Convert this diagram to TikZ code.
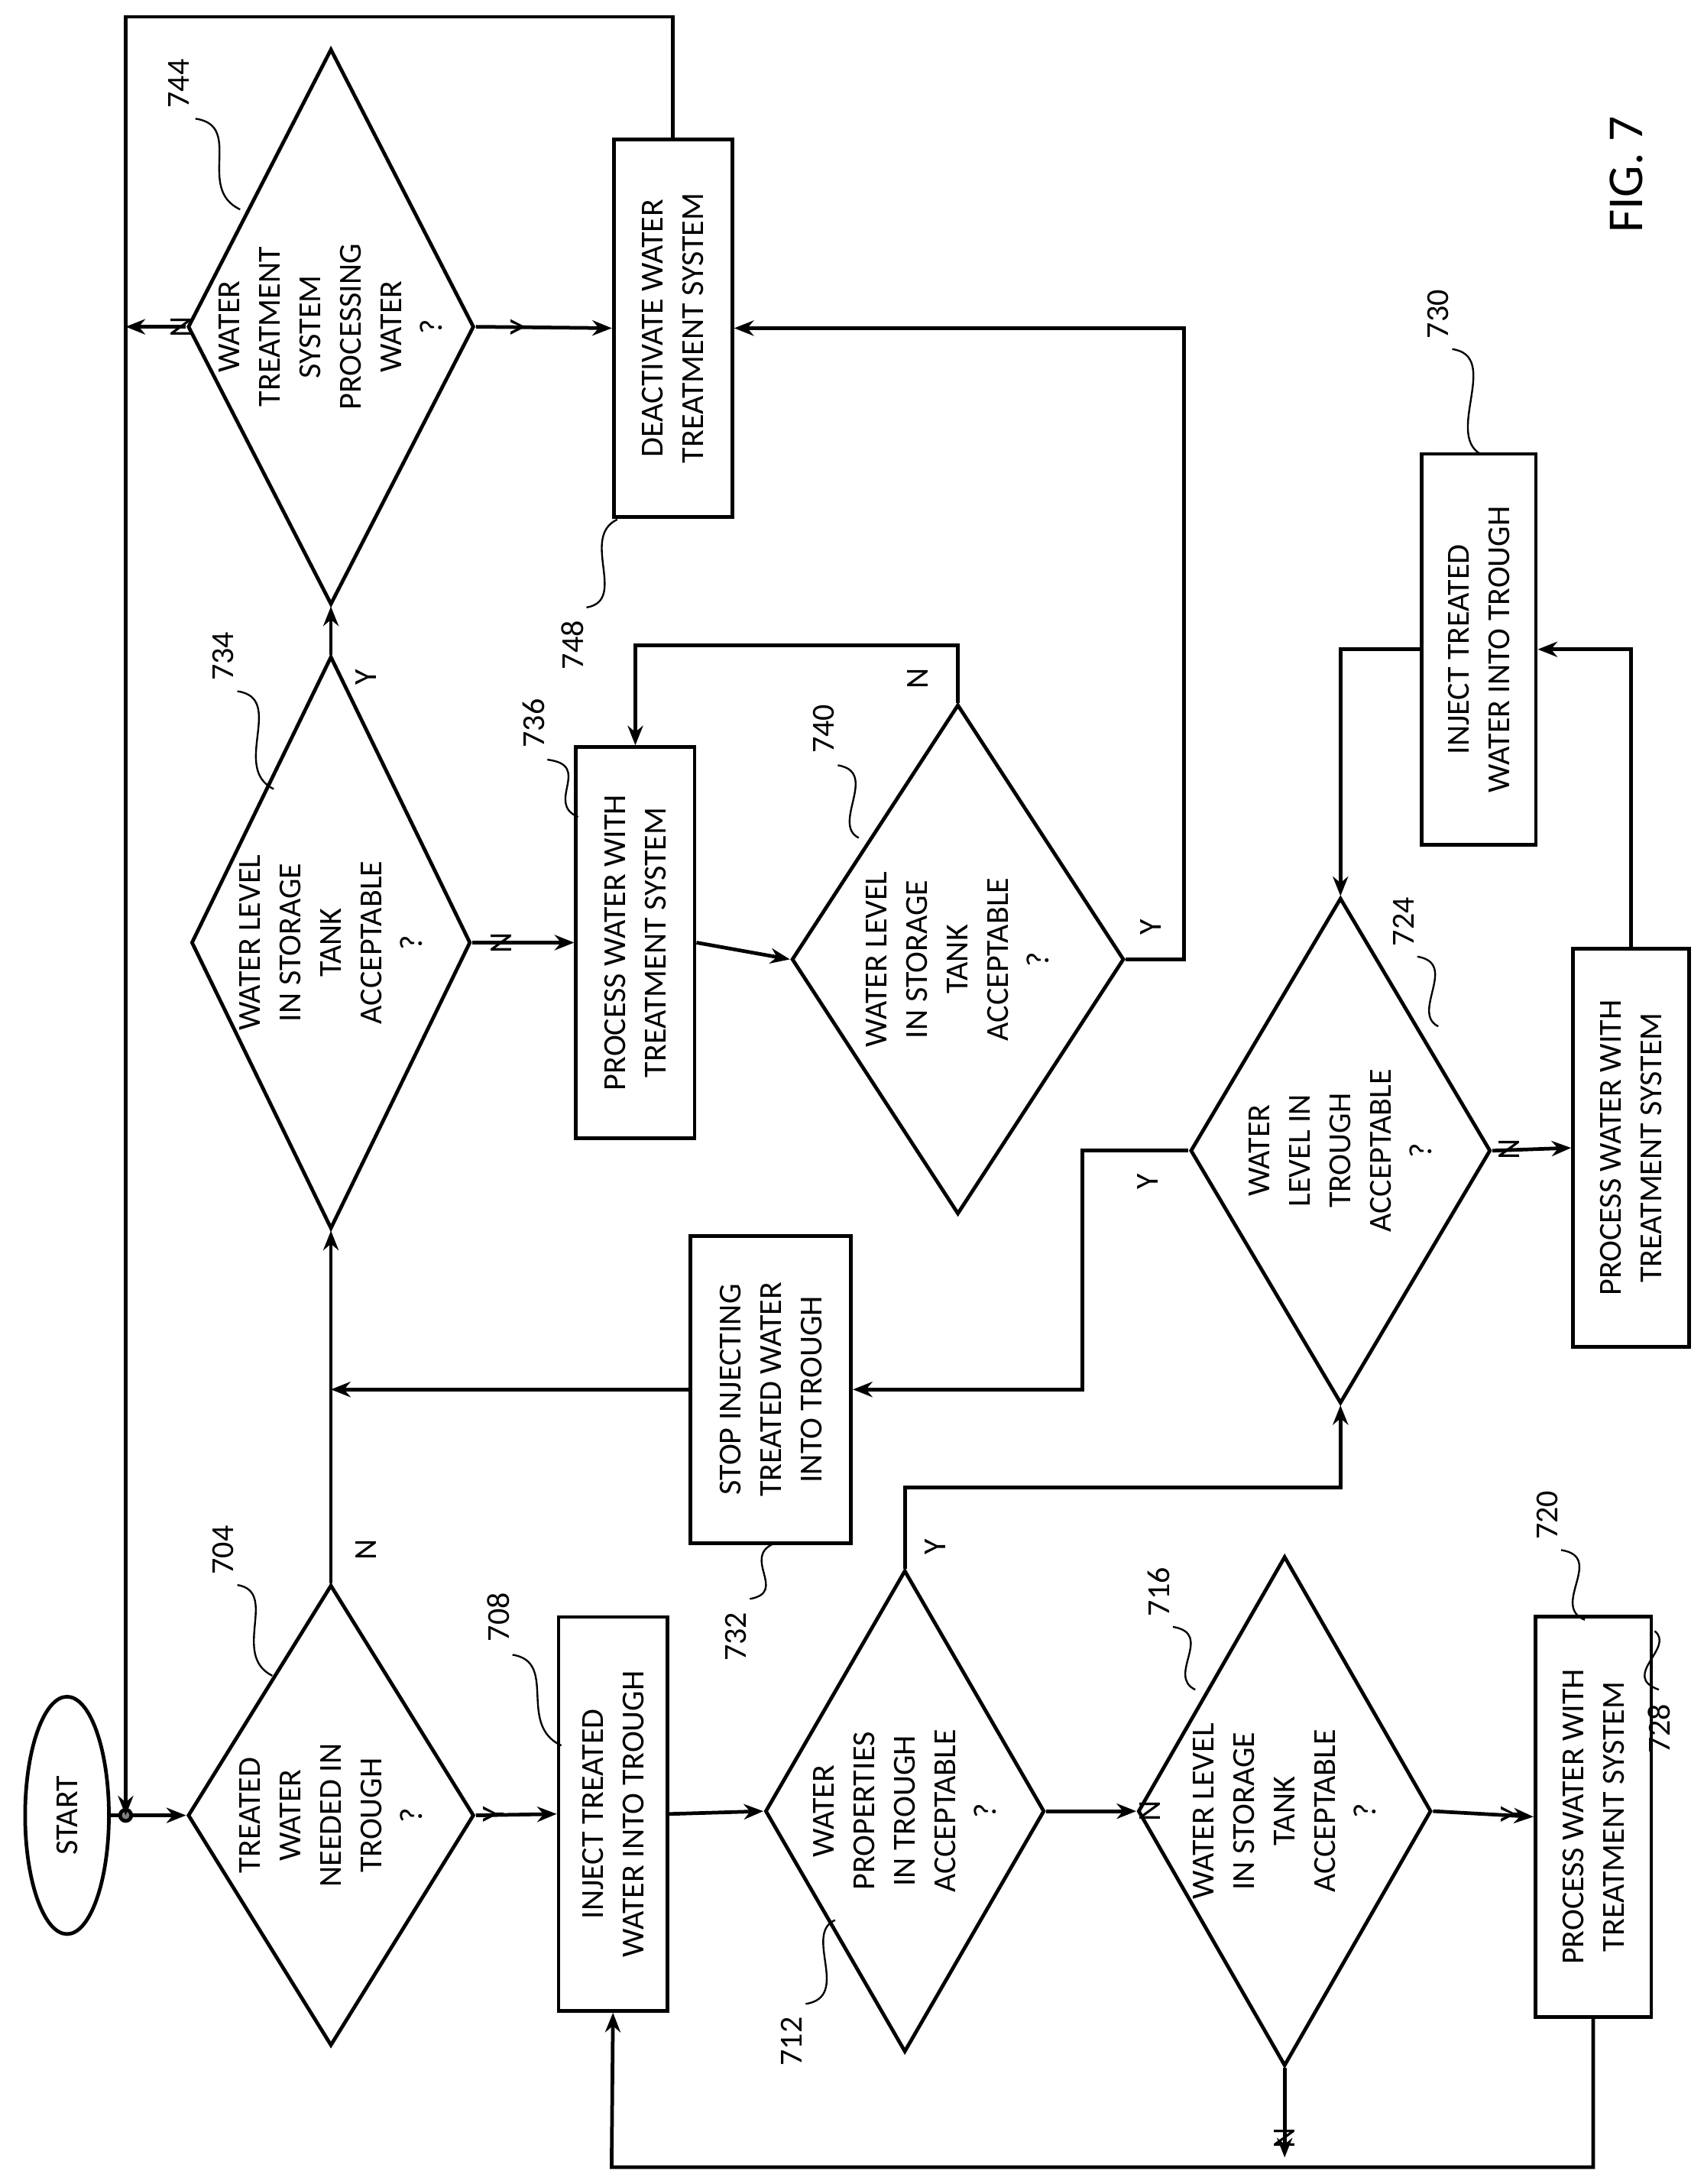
\documentclass[tikz,border=0pt]{standalone}
\usepackage{fontspec}
\setmainfont{Carlito}
\usetikzlibrary{shapes.geometric,arrows.meta}
\begin{document}
\begin{tikzpicture}[x=1pt,y=1pt,line width=2.6pt,
 arr/.style={-{Stealth[length=14pt,width=11pt]}},
 dia/.style={draw,diamond,inner sep=0pt},
 box/.style={draw,rectangle,inner sep=0pt},
 txt/.style={rotate=90,align=center,font=\fontsize{23}{29}\selectfont},
 lab/.style={font=\fontsize{23}{28}\selectfont,rotate=90},
 sq/.style={line width=1.3pt}]
\useasboundingbox (0,0) rectangle (1220,-1564);
\fill[white] (0,0) rectangle (1220,-1564);
% nodes
\node[draw,ellipse,minimum width=60pt,minimum height=170pt,inner sep=0] (start) at (48,-1300) {};
\node[txt] at (start) {START};
\coordinate (dot) at (90,-1300);
\node[dia,minimum width=205pt,minimum height=330pt] (d704) at (237,-1300) {};
\node[txt] at (d704) {TREATED\\WATER\\NEEDED IN\\TROUGH\\?};
\node[box,minimum width=78pt,minimum height=282pt] (b708) at (439,-1299) {};
\node[txt] at (b708) {INJECT TREATED\\WATER INTO TROUGH};
\node[dia,minimum width=200pt,minimum height=345pt] (d712) at (648,-1297) {};
\node[txt] at (d712) {WATER\\PROPERTIES\\IN TROUGH\\ACCEPTABLE\\?};
\node[dia,minimum width=210pt,minimum height=365pt] (d716) at (920,-1297) {};
\node[txt] at (d716) {WATER LEVEL\\IN STORAGE\\TANK\\ACCEPTABLE\\?};
\node[box,minimum width=83pt,minimum height=287pt] (b720) at (1141,-1301) {};
\node[txt] at (b720) {PROCESS WATER WITH\\TREATMENT SYSTEM};
\node[dia,minimum width=215pt,minimum height=362pt] (d724) at (960,-824) {};
\node[txt] at (d724) {WATER\\LEVEL IN\\TROUGH\\ACCEPTABLE\\?};
\node[box,minimum width=83pt,minimum height=285pt] (b728) at (1168,-822) {};
\node[txt] at (b728) {PROCESS WATER WITH\\TREATMENT SYSTEM};
\node[box,minimum width=82pt,minimum height=280pt] (b730) at (1059,-465) {};
\node[txt] at (b730) {INJECT TREATED\\WATER INTO TROUGH};
\node[box,minimum width=115pt,minimum height=220pt] (b732) at (552,-995) {};
\node[txt] at (b732) {STOP INJECTING\\TREATED WATER\\INTO TROUGH};
\node[dia,minimum width=200pt,minimum height=410pt] (d734) at (237,-675) {};
\node[txt] at (d734) {WATER LEVEL\\IN STORAGE\\TANK\\ACCEPTABLE\\?};
\node[box,minimum width=85pt,minimum height=280pt] (b736) at (455,-675) {};
\node[txt] at (b736) {PROCESS WATER WITH\\TREATMENT SYSTEM};
\node[dia,minimum width=238pt,minimum height=365pt] (d740) at (686,-687) {};
\node[txt] at (d740) {WATER LEVEL\\IN STORAGE\\TANK\\ACCEPTABLE\\?};
\node[dia,minimum width=205pt,minimum height=398pt] (d744) at (237,-234) {};
\node[txt] at (d744) {WATER\\TREATMENT\\SYSTEM\\PROCESSING\\WATER\\?};
\node[box,minimum width=85pt,minimum height=270pt] (b748) at (482,-235) {};
\node[txt] at (b748) {DEACTIVATE WATER\\TREATMENT SYSTEM};
% connectors
\draw[arr] (start.east) -- (d704.west);
\fill[gray] (dot) circle (4pt);
\draw (dot) circle (4pt);
\draw[arr] (b748.north) |- (90,-12) -- (dot);
\draw[arr] (d744.west) -- (90,-234) node[lab,pos=0.5,below=6pt] {N};
\draw[arr] (d704.east) -- (b708.west) node[lab,midway,above=4pt] {Y};
\draw[arr] (b708.east) -- (d712.west);
\draw[arr] (d712.east) -- (d716.west) node[lab,midway,below=30pt] {N};
\draw[arr] (d716.east) -- (b720.west) node[lab,midway,below=8pt] {Y};
\draw[arr] (d716.south) -- (920,-1545) node[lab,pos=0.5,left=6pt] {N};
\draw[arr] (b720.south) |- (438,-1552) -- (b708.south);
\draw[arr] (d712.north) -- (648,-1065) -| (d724.south);
\node[lab] at (670,-1108) {Y};
\draw[arr] (d724.east) -- (b728.west) node[lab,midway,above=4pt] {N};
\draw[arr] (b728.north) |- (b730.east);
\draw[arr] (b730.west) -| (d724.north);
\draw[arr] (d724.west) -- (775,-824) |- (b732.east);
\node[lab] at (822,-846) {Y};
\draw[arr] (b732.west) -- (237,-995);
\draw[arr] (d704.north) -- (d734.south);
\node[lab] at (262,-1110) {N};
\draw[arr] (d734.east) -- (b736.west) node[lab,midway,above=4pt] {N};
\draw[arr] (b736.east) -- (d740.west);
\draw[arr] (d740.north) |- (455,-462) -- (b736.north);
\node[lab] at (657,-486) {N};
\draw[arr] (d740.east) -- (848,-687) |- (b748.east);
\node[lab] at (824,-664) {Y};
\draw[arr] (d734.north) -- (d744.south);
\node[lab] at (262,-485) {Y};
\draw[arr] (d744.east) -- (b748.west) node[lab,midway,above=4pt] {Y};
% reference labels
\node[lab] (r744) at (128,-60) {744};
\draw[sq] (140,-85) .. controls (175,-90) and (140,-135) .. (172,-150);
\node[lab] (r704) at (160,-1110) {704};
\draw[sq] (170,-1135) .. controls (200,-1140) and (165,-1185) .. (195,-1200);
\node[lab] (r708) at (357,-1158) {708};
\draw[sq] (367,-1185) .. controls (400,-1190) and (370,-1235) .. (402,-1250);
\node[lab] (r712) at (567,-1462) {712};
\draw[sq] (577,-1435) .. controls (610,-1430) and (575,-1385) .. (598,-1375);
\node[lab] (r716) at (830,-1140) {716};
\draw[sq] (840,-1165) .. controls (870,-1170) and (835,-1200) .. (856,-1210);
\node[lab] (r720) at (1108,-1085) {720};
\draw[sq] (1118,-1110) .. controls (1150,-1115) and (1110,-1150) .. (1135,-1160);
\node[lab] (r732) at (527,-1172) {732};
\draw[sq] (537,-1145) .. controls (565,-1140) and (530,-1115) .. (555,-1105);
\node[lab] (r728) at (1188,-1238) {728};
\draw[sq] (1188,-1210) .. controls (1160,-1200) and (1200,-1180) .. (1185,-1168);
\node[lab] (r724) at (1005,-660) {724};
\draw[sq] (1015,-685) .. controls (1045,-690) and (1010,-725) .. (1030,-735);
\node[lab] (r730) at (1030,-225) {730};
\draw[sq] (1040,-250) .. controls (1075,-255) and (1035,-310) .. (1060,-325);
\node[lab] (r740) at (590,-522) {740};
\draw[sq] (600,-548) .. controls (630,-553) and (595,-590) .. (615,-600);
\node[lab] (r736) at (382,-518) {736};
\draw[sq] (392,-544) .. controls (425,-548) and (390,-575) .. (414,-585);
\node[lab] (r734) at (160,-470) {734};
\draw[sq] (170,-495) .. controls (205,-500) and (165,-550) .. (196,-565);
\node[lab] (r748) at (410,-462) {748};
\draw[sq] (420,-435) .. controls (450,-430) and (415,-385) .. (442,-372);
\node[rotate=90,font=\fontsize{36}{40}\selectfont] (fig) at (1165,-125) {FIG. 7};
\end{tikzpicture}
\end{document}
